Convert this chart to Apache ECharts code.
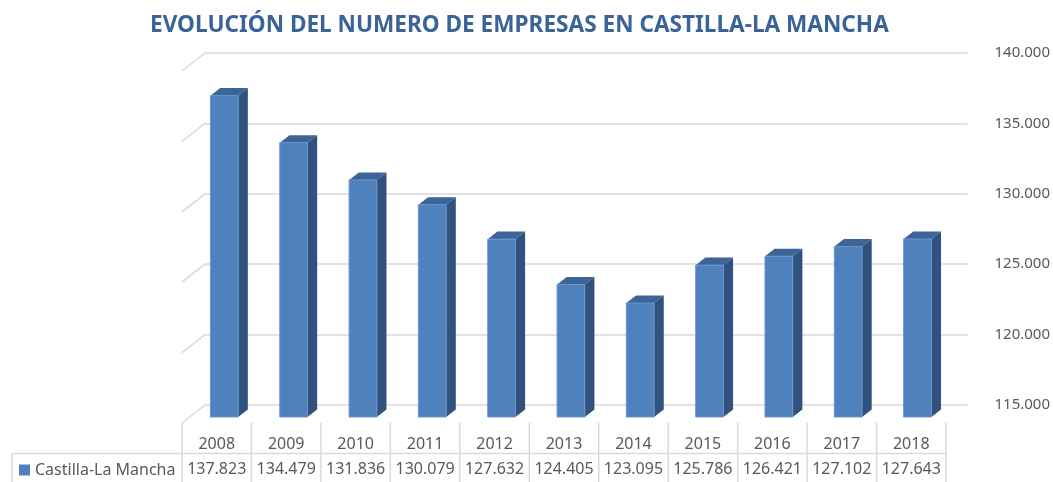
<!DOCTYPE html>
<html>
<head>
<meta charset="utf-8">
<script src="https://cdn.jsdelivr.net/npm/echarts@6/dist/echarts.min.js"></script>
<style>
  html, body { margin: 0; padding: 0; background: #fff; }
  #chart { width: 1053px; height: 482px; }
</style>
</head>
<body>
<div id="chart"></div>
<script>
const years = ["2008", "2009", "2010", "2011", "2012", "2013", "2014", "2015", "2016", "2017", "2018"];
const empresas = [137823, 134479, 131836, 130079, 127632, 124405, 123095, 125786, 126421, 127102, 127643];
const yTicks = [115000, 120000, 125000, 130000, 135000, 140000];
const serieName = "Castilla-La Mancha";

// miles con punto
const fmt = v => String(v).replace(/\B(?=(\d{3})+(?!\d))/g, ".");

const FONT = "Noto Sans";
const GRAY = "#595959";
const LINE = "#d9d9d9";
// perspectiva: pared trasera -> plano frontal
const DEPTH_X = -23, DEPTH_Y = 18;

let myChart = echarts.init(document.getElementById("chart"));

let option = {
  backgroundColor: "#fff",
  animation: false,
  title: {
    text: "EVOLUCIÓN DEL NUMERO DE EMPRESAS EN CASTILLA-LA MANCHA",
    left: 145,
    top: 9,
    textStyle: {
      fontFamily: FONT,
      fontSize: 22.6,
      fontWeight: "bold",
      color: "#3a6398"
    }
  },
  legend: {
    left: 19,
    top: 462,
    padding: 0,
    itemWidth: 11,
    itemHeight: 11,
    selectedMode: false,
    data: [{ name: serieName, icon: "rect" }],
    textStyle: { fontFamily: FONT, fontSize: 16, color: GRAY }
  },
  grid: [
    { left: 205, right: 85, top: 53, bottom: 77 },
    { left: 182, right: 107, top: 423, bottom: 0 }
  ],
  xAxis: [
    { type: "category", gridIndex: 0, data: years, show: false },
    { type: "category", gridIndex: 1, data: years, show: false }
  ],
  yAxis: [
    {
      type: "value",
      gridIndex: 0,
      position: "right",
      min: 115000,
      max: 140000,
      interval: 5000,
      axisLine: { show: false },
      axisTick: { show: false },
      axisLabel: {
        margin: 27,
        fontFamily: FONT,
        fontSize: 15,
        color: GRAY,
        formatter: v => fmt(v)
      },
      splitLine: { show: true, lineStyle: { color: LINE, width: 1.5 } }
    },
    { type: "value", gridIndex: 1, min: 0, max: 2, show: false }
  ],
  series: [
    {
      // diagonales de la pared lateral
      type: "custom",
      xAxisIndex: 0,
      yAxisIndex: 0,
      silent: true,
      data: yTicks.map(v => [0, v]),
      renderItem: (params, api) => {
        let p = api.coord([0, api.value(1)]);
        let bw = api.size([1, 0])[0];
        let x = p[0] - bw / 2;
        return {
          type: "line",
          shape: { x1: x, y1: p[1], x2: x + DEPTH_X, y2: p[1] + DEPTH_Y },
          style: { stroke: LINE, lineWidth: 1.5 }
        };
      }
    },
    {
      name: serieName,
      type: "custom",
      xAxisIndex: 0,
      yAxisIndex: 0,
      itemStyle: { color: "#4f81bd" },
      data: empresas.map((v, i) => [i, v]),
      renderItem: (params, api) => {
        let i = api.value(0);
        let top = api.coord([i, api.value(1)]);
        let base = api.coord([i, 115000]);
        let bw = api.size([1, 0])[0];
        let w = bw * 0.4;
        let ox = DEPTH_X * 2 / 3, oy = DEPTH_Y * 2 / 3;
        let dx = -DEPTH_X * 0.42, dy = -DEPTH_Y * 0.42;
        let x0 = top[0] + ox - w / 2, x1 = x0 + w;
        let yT = top[1] + oy, yB = base[1] + oy;
        return {
          type: "group",
          children: [
            {
              type: "polygon",
              shape: { points: [[x1, yT], [x1 + dx, yT + dy], [x1 + dx, yB + dy], [x1, yB]] },
              style: { fill: "#31527e" }
            },
            {
              type: "polygon",
              shape: { points: [[x0, yT], [x0 + dx, yT + dy], [x1 + dx, yT + dy], [x1, yT]] },
              style: { fill: "#3b6497" }
            },
            {
              type: "rect",
              shape: { x: x0, y: yT, width: w, height: yB - yT },
              style: { fill: "#4f81bd", stroke: "#6a95cb", lineWidth: 1 }
            }
          ]
        };
      }
    },
    {
      // tabla de datos
      type: "custom",
      xAxisIndex: 1,
      yAxisIndex: 1,
      silent: true,
      data: empresas.map((v, i) => [i, v]),
      renderItem: (params, api) => {
        let i = api.value(0);
        let t = api.coord([i, 2]);
        let m = api.coord([i, 1]);
        let b = api.coord([i, 0]);
        let bw = api.size([1, 0])[0];
        let xl = t[0] - bw / 2, xr = t[0] + bw / 2;
        let ls = { stroke: LINE, lineWidth: 1.5 };
        let kids = [
          { type: "line", shape: { x1: xl, y1: t[1], x2: xl, y2: b[1] }, style: ls },
          { type: "line", shape: { x1: xl, y1: m[1] + 1, x2: xr, y2: m[1] + 1 }, style: ls },
          {
            type: "text",
            style: {
              text: years[i], x: t[0], y: (t[1] + m[1]) / 2 + 7,
              align: "center", verticalAlign: "middle",
              fontFamily: FONT, fontSize: 16, fill: GRAY
            }
          },
          {
            type: "text",
            style: {
              text: fmt(api.value(1)), x: t[0], y: (m[1] + b[1]) / 2 + 2,
              align: "center", verticalAlign: "middle",
              fontFamily: FONT, fontSize: 16, fill: GRAY
            }
          }
        ];
        if (i === 0) {
          kids.push({ type: "line", shape: { x1: xl - 170, y1: m[1] + 1, x2: xl, y2: m[1] + 1 }, style: ls });
          kids.push({ type: "line", shape: { x1: xl - 170, y1: m[1] + 1, x2: xl - 170, y2: b[1] }, style: ls });
        }
        if (i === years.length - 1) {
          kids.push({ type: "line", shape: { x1: xr, y1: t[1], x2: xr, y2: b[1] }, style: ls });
        }
        return { type: "group", children: kids };
      }
    }
  ]
};

myChart.setOption(option);
window.addEventListener("resize", () => {
  myChart.resize();
});
</script>
</body>
</html>
